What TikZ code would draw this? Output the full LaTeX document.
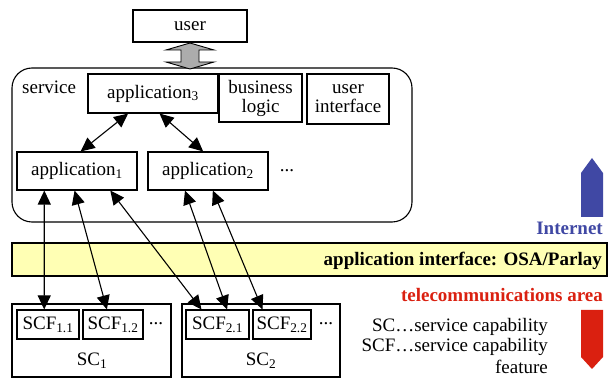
\documentclass[tikz,border=0pt]{standalone}
\usepackage{fontspec}
\setmainfont{Liberation Serif}
\newfontfamily\diagfont{Liberation Serif}
\usetikzlibrary{arrows.meta,calc}
\definecolor{barfill}{HTML}{FFFFB4}
\definecolor{netblue}{HTML}{4048A4}
\definecolor{telred}{HTML}{DA2010}
\begin{document}
\begin{tikzpicture}[x=1pt,y=-1pt,
  txt/.style={font=\diagfont\fontsize{19}{21}\selectfont},
  bx/.style={draw, line width=1.1pt, fill=white, inner sep=0pt, txt, align=center},
  bold/.style={font=\diagfont\fontsize{19}{21}\selectfont\bfseries},
  conn/.style={line width=1.1pt, {Triangle[width=13pt,length=14pt]}-{Triangle[width=13pt,length=14pt]}}
]
\useasboundingbox (0,0) rectangle (611,379);
% service container
\node[draw, line width=1.1pt, rounded corners=20pt, minimum width=400pt, minimum height=154pt, inner sep=0pt] (service) at (212,145) {};
\node[txt, anchor=west, inner sep=0pt] (servicelbl) at (22,87) {service};
% user
\node[bx, minimum width=114pt, minimum height=32pt] (user) at (190,26) {user};
% gray double arrow
\draw[line width=0.9pt, fill=gray!65] (190,43) -- (214,50) -- (199,50) -- (199,62) -- (214,62) -- (190,69) -- (166,62) -- (181,62) -- (181,50) -- (166,50) -- cycle;
% service internals
\node[bx, minimum width=130pt, minimum height=39pt] (app3) at (153,93.5) {application\textsubscript{3}};
\node[bx, minimum width=83pt, minimum height=48pt] (biz) at (260.5,98) {business\\[-2pt]logic};
\node[bx, minimum width=82pt, minimum height=50pt] (ui) at (348,99) {user\\[-2pt]interface};
\node[bx, minimum width=120pt, minimum height=38pt] (app1) at (77,171) {application\textsubscript{1}};
\node[bx, minimum width=120pt, minimum height=38pt] (app2) at (208,171) {application\textsubscript{2}};
\node[txt, inner sep=0pt] (dotsA) at (287,171) {...};
% yellow bar
\node[draw, line width=1.1pt, fill=barfill, minimum width=595pt, minimum height=33pt, inner sep=0pt] (bar) at (309.5,259.5) {};
\node[bold, anchor=east, inner sep=0pt] (barlbl) at (602,261) {application interface: OSA/Parlay};
% side labels and arrows
\node[bold, text=netblue, anchor=east, inner sep=0pt] (inet) at (603,228) {Internet};
\node[bold, text=telred, anchor=east, inner sep=0pt] (tele) at (603,295) {telecommunications area};
\fill[netblue] (592,158) -- (603,173) -- (603,217) -- (581,217) -- (581,173) -- cycle;
\fill[telred] (581,310) -- (603,310) -- (603,357) -- (592,369) -- (581,357) -- cycle;
% SC boxes
\node[bx, minimum width=159pt, minimum height=73pt] (sc1) at (91.5,340.5) {};
\node[bx, minimum width=158pt, minimum height=73pt] (sc2) at (261,340.5) {};
\node[bx, minimum width=62pt, minimum height=29pt] (scf11) at (48,324.5) {SCF\textsubscript{1.1}};
\node[bx, minimum width=60pt, minimum height=29pt] (scf12) at (113,324.5) {SCF\textsubscript{1.2}};
\node[txt, inner sep=0pt] (dotsB) at (156,324) {...};
\node[bx, minimum width=63pt, minimum height=29pt] (scf21) at (217.5,324.5) {SCF\textsubscript{2.1}};
\node[bx, minimum width=58pt, minimum height=29pt] (scf22) at (282,324.5) {SCF\textsubscript{2.2}};
\node[txt, inner sep=0pt] (dotsC) at (326,324) {...};
\node[txt, inner sep=0pt] (sc1lbl) at (92,361) {SC\textsubscript{1}};
\node[txt, inner sep=0pt] (sc2lbl) at (261,361) {SC\textsubscript{2}};
% legend
\node[txt, anchor=east, inner sep=0pt] (leg1) at (548,327) {SC…service capability};
\node[txt, anchor=east, inner sep=0pt] (leg2) at (548,347) {SCF…service capability};
\node[txt, anchor=east, inner sep=0pt] (leg3) at (548,367) {feature};
% connectors
\draw[conn] ($(app3.south west)!0.31!(app3.south east)$) -- ($(app1.north west)!0.53!(app1.north east)$);
\draw[conn] ($(app3.south west)!0.55!(app3.south east)$) -- ($(app2.north west)!0.46!(app2.north east)$);
\draw[conn] ($(app1.south west)!0.23!(app1.south east)$) -- ($(scf11.north west)!0.44!(scf11.north east)$);
\draw[conn] ($(app1.south west)!0.48!(app1.south east)$) -- ($(scf12.north west)!0.40!(scf12.north east)$);
\draw[conn] ($(app1.south west)!0.775!(app1.south east)$) -- ($(scf21.north west)!0.25!(scf21.north east)$);
\draw[conn] ($(app2.south west)!0.31!(app2.south east)$) -- ($(scf21.north west)!0.65!(scf21.north east)$);
\draw[conn] ($(app2.south west)!0.54!(app2.south east)$) -- ($(scf22.north west)!0.17!(scf22.north east)$);
\end{tikzpicture}
\end{document}
